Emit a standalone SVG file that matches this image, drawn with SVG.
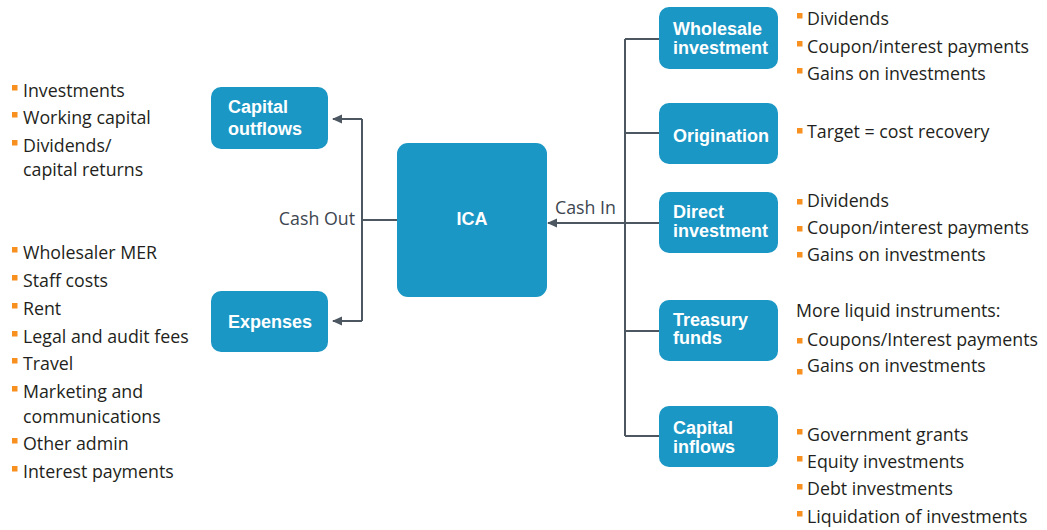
<svg xmlns="http://www.w3.org/2000/svg" width="1047" height="530" viewBox="0 0 1047 530">
<style>
.box{fill:#1b97c5;}
.bt{font-family:"Liberation Sans",Arial,sans-serif;font-weight:bold;font-size:18px;fill:#ffffff;}
.tx{font-family:"Open Sans","Liberation Sans",sans-serif;font-size:17.8px;fill:#231f20;}
.lbl{font-family:"Open Sans","Liberation Sans",sans-serif;font-size:17.8px;fill:#3d4650;}
.bu{fill:#f7901e;}
.ln{fill:none;stroke:#4d5761;stroke-width:2;}
</style>
<defs>
<marker id="ah" markerWidth="10" markerHeight="10" refX="9" refY="5" orient="auto" markerUnits="userSpaceOnUse">
<path d="M0,0.5 L10,5 L0,9.5 Z" fill="#4d5761"/>
</marker>
</defs>
<g id="connectors">
<path class="ln" d="M397,220 H362"/>
<path class="ln" d="M362,119 V321"/>
<path class="ln" d="M362,119 H333" marker-end="url(#ah)"/>
<path class="ln" d="M362,321 H333" marker-end="url(#ah)"/>
<path class="ln" d="M625,39 V436"/>
<path class="ln" d="M625,39 H659"/>
<path class="ln" d="M625,133 H659"/>
<path class="ln" d="M625,223 H659"/>
<path class="ln" d="M625,331 H659"/>
<path class="ln" d="M625,436 H659"/>
<path class="ln" d="M625,223 H548" marker-end="url(#ah)"/>
<text class="lbl" x="355" y="225" text-anchor="end">Cash Out</text>
<text class="lbl" x="555" y="214">Cash In</text>
</g>
<g id="ica">
<rect class="box" x="397" y="143" width="150" height="154" rx="11"/>
<text class="bt" x="472" y="225" text-anchor="middle">ICA</text>
</g>
<g id="capital-outflows">
<rect class="box" x="211" y="87" width="117" height="62" rx="10"/>
<text class="bt" x="228" y="113">Capital</text>
<text class="bt" x="228" y="135">outflows</text>
</g>
<g id="expenses">
<rect class="box" x="211" y="291" width="117" height="61" rx="10"/>
<text class="bt" x="228" y="328">Expenses</text>
</g>
<g id="wholesale-investment">
<rect class="box" x="659" y="7" width="119" height="62" rx="10"/>
<text class="bt" x="673" y="35">Wholesale</text>
<text class="bt" x="673" y="54">investment</text>
</g>
<g id="origination">
<rect class="box" x="659" y="103" width="119" height="61" rx="10"/>
<text class="bt" x="673" y="142">Origination</text>
</g>
<g id="direct-investment">
<rect class="box" x="659" y="192" width="119" height="61" rx="10"/>
<text class="bt" x="673" y="218">Direct</text>
<text class="bt" x="673" y="237">investment</text>
</g>
<g id="treasury-funds">
<rect class="box" x="659" y="300" width="119" height="61" rx="10"/>
<text class="bt" x="673" y="326">Treasury</text>
<text class="bt" x="673" y="344">funds</text>
</g>
<g id="capital-inflows">
<rect class="box" x="659" y="406" width="119" height="61" rx="10"/>
<text class="bt" x="673" y="434">Capital</text>
<text class="bt" x="673" y="453">inflows</text>
</g>
<g id="left-lists">
<rect class="bu" x="12" y="85" width="5.5" height="5.5"/><text class="tx" x="23" y="97">Investments</text>
<rect class="bu" x="12" y="112" width="5.5" height="5.5"/><text class="tx" x="23" y="124">Working capital</text>
<rect class="bu" x="12" y="140" width="5.5" height="5.5"/><text class="tx" x="23" y="152">Dividends/</text>
<text class="tx" x="23" y="176">capital returns</text>
<rect class="bu" x="12" y="247" width="5.5" height="5.5"/><text class="tx" x="23" y="259">Wholesaler MER</text>
<rect class="bu" x="12" y="275" width="5.5" height="5.5"/><text class="tx" x="23" y="287">Staff costs</text>
<rect class="bu" x="12" y="303" width="5.5" height="5.5"/><text class="tx" x="23" y="315">Rent</text>
<rect class="bu" x="12" y="331" width="5.5" height="5.5"/><text class="tx" x="23" y="343">Legal and audit fees</text>
<rect class="bu" x="12" y="358" width="5.5" height="5.5"/><text class="tx" x="23" y="370">Travel</text>
<rect class="bu" x="12" y="386" width="5.5" height="5.5"/><text class="tx" x="23" y="398">Marketing and</text>
<text class="tx" x="23" y="423">communications</text>
<rect class="bu" x="12" y="438" width="5.5" height="5.5"/><text class="tx" x="23" y="450">Other admin</text>
<rect class="bu" x="12" y="466" width="5.5" height="5.5"/><text class="tx" x="23" y="478">Interest payments</text>
</g>
<g id="right-lists">
<rect class="bu" x="797" y="13" width="5.5" height="5.5"/><text class="tx" x="807" y="25">Dividends</text>
<rect class="bu" x="797" y="41" width="5.5" height="5.5"/><text class="tx" x="807" y="53">Coupon/interest payments</text>
<rect class="bu" x="797" y="68" width="5.5" height="5.5"/><text class="tx" x="807" y="80">Gains on investments</text>
<rect class="bu" x="797" y="128" width="5.5" height="5.5"/><text class="tx" x="807" y="138">Target = cost recovery</text>
<rect class="bu" x="797" y="199" width="5.5" height="5.5"/><text class="tx" x="807" y="207">Dividends</text>
<rect class="bu" x="797" y="226" width="5.5" height="5.5"/><text class="tx" x="807" y="234">Coupon/interest payments</text>
<rect class="bu" x="797" y="252" width="5.5" height="5.5"/><text class="tx" x="807" y="261">Gains on investments</text>
<text class="tx" x="796" y="317">More liquid instruments:</text>
<rect class="bu" x="797" y="338" width="5.5" height="5.5"/><text class="tx" x="807" y="346">Coupons/Interest payments</text>
<rect class="bu" x="797" y="369" width="5.5" height="5.5"/><text class="tx" x="807" y="372">Gains on investments</text>
<rect class="bu" x="797" y="429" width="5.5" height="5.5"/><text class="tx" x="807" y="441">Government grants</text>
<rect class="bu" x="797" y="456" width="5.5" height="5.5"/><text class="tx" x="807" y="468">Equity investments</text>
<rect class="bu" x="797" y="484" width="5.5" height="5.5"/><text class="tx" x="807" y="495">Debt investments</text>
<rect class="bu" x="797" y="511" width="5.5" height="5.5"/><text class="tx" x="807" y="523">Liquidation of investments</text>
</g>
</svg>
